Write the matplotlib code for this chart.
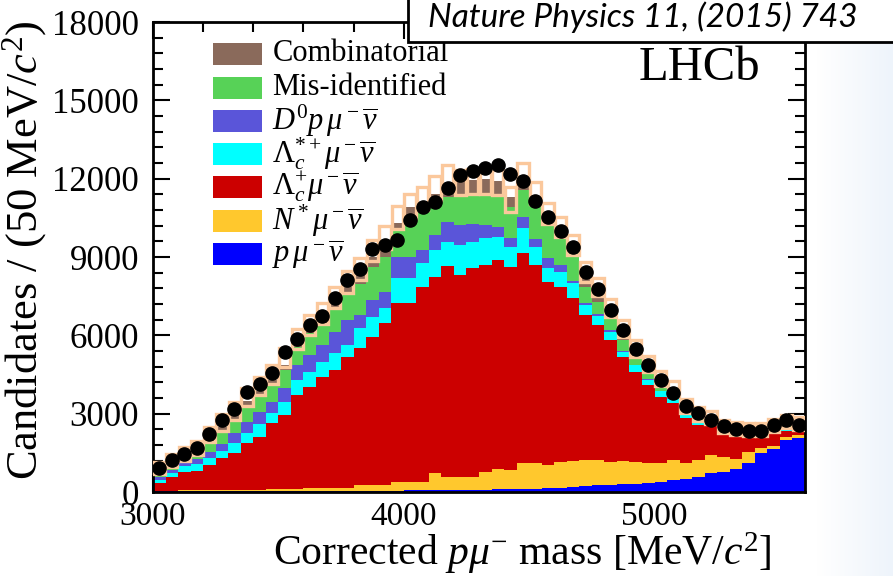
import numpy as np
import matplotlib
matplotlib.use("Agg")
import matplotlib.pyplot as plt
from matplotlib.patches import Rectangle

# ── data ───────────────────────────────────────────────────
bin_lo, bin_w = 3000, 50
# upper edges of each stacked layer, bottom to top
top_pmunu = [20, 20, 25, 25, 30, 30, 30, 35, 35, 35, 40, 40, 40, 45, 45, 45, 50, 50, 55, 55,
             60, 60, 65, 70, 70, 80, 90, 100, 110, 120, 130, 150, 170, 190, 230, 250, 270, 300, 300, 350,
             400, 460, 500, 560, 740, 780, 900, 1120, 1480, 1650, 1990, 2080]
top_nstar = [50, 55, 60, 60, 70, 75, 80, 85, 95, 100, 110, 120, 140, 150, 160, 170, 260, 270, 280, 390,
             400, 400, 715, 590, 590, 590, 780, 870, 840, 1100, 1120, 1030, 1160, 1200, 1230, 1230, 1160, 1200, 1160, 1120,
             1100, 1230, 1120, 1230, 1400, 1330, 1250, 1530, 1670, 1775, 2110, 2180]
top_lc = [330, 560, 780, 820, 1030, 1290, 1480, 1860, 2120, 2630, 2950, 3715, 4030, 4420, 4670, 5180, 5500, 5950, 6460, 7226,
          7226, 7864, 8248, 8656, 8311, 8567, 8694, 8886, 8630, 9141, 8694, 8056, 7864, 7418, 6779, 6396, 5822, 5183, 4609, 4098,
          3651, 3421, 2822, 2566, 2566, 2221, 2157, 2119, 2145, 2221, 2349, 2502]
top_lcstar = [460, 740, 1000, 1060, 1290, 1560, 1870, 2260, 2620, 3010, 3460, 4290, 4610, 4990, 5310, 5630, 6270, 6715, 7035, 8184,
              8184, 8758, 9269, 9588, 9460, 9588, 9716, 9780, 9396, 10100, 9396, 8567, 8439, 7992, 7162, 6740, 6141, 5375, 4864, 4300,
              3850, 3580, 2980, 2680, 2640, 2280, 2190, 2140, 2170, 2250, 2380, 2530]
top_d0 = [560, 860, 1150, 1260, 1540, 1850, 2260, 2700, 3050, 3460, 3970, 4860, 5250, 5630, 6140, 6590, 6780, 7350, 7670, 9013,
          9013, 9269, 9844, 10353, 10226, 10265, 10226, 10162, 9716, 10544, 9690, 8950, 8694, 8094, 7252, 6805, 6205, 5400, 4880, 4320,
          3860, 3590, 2990, 2690, 2645, 2285, 2195, 2145, 2175, 2255, 2385, 2535]
top_misid = [750, 1030, 1310, 1500, 1880, 2330, 2750, 3260, 3650, 4100, 4670, 5570, 6080, 6460, 7000, 7600, 7950, 8600, 9000, 10035,
             10482, 10737, 10992, 11311, 11311, 11375, 11375, 11311, 10900, 11566, 10992, 10353, 9970, 9300, 7865, 7290, 6652, 5822, 5120, 4600,
             4100, 3780, 3150, 2850, 2720, 2380, 2260, 2200, 2230, 2420, 2550, 2600]
top_comb = [860, 1120, 1400, 1600, 2050, 2500, 2950, 3480, 3850, 4300, 4870, 5700, 6240, 6650, 7250, 7850, 8300, 9000, 9450, 10300,
            10900, 11050, 11400, 11800, 12000, 11950, 12000, 11900, 11300, 11700, 11183, 10480, 10100, 9450, 8250, 7730, 6900, 6077, 5375, 4780,
            4250, 3880, 3250, 2950, 2800, 2450, 2330, 2300, 2320, 2500, 2620, 2650]
# fit total (box centre) and its uncertainty
fit_total = [920, 1200, 1460, 1680, 2200, 2650, 3100, 3650, 4050, 4500, 5150, 5850, 6400, 6850, 7450, 8050, 8550, 9250, 9750, 10500,
             10950, 11250, 11650, 12050, 11850, 11900, 11900, 11850, 11200, 12180, 11450, 10650, 10150, 9450, 8420, 7850, 7050, 6250, 5500, 4900,
             4350, 3950, 3300, 3000, 2850, 2500, 2420, 2400, 2380, 2560, 2700, 2640]
fit_err = [230, 250, 260, 270, 300, 320, 330, 350, 350, 360, 380, 380, 390, 400, 400, 410, 420, 420, 430, 440,
           450, 450, 460, 470, 480, 480, 480, 480, 480, 430, 420, 400, 400, 380, 370, 360, 340, 330, 320, 310,
           300, 290, 280, 270, 260, 250, 250, 250, 250, 250, 250, 250]
data_y = [907, 1214, 1467, 1673, 2221, 2746, 3190, 3830, 4125, 4557, 5350, 5860, 6384, 6752, 7418, 8119, 8552, 9306, 9460, 9651,
          10430, 10903, 11117, 11654, 12140, 12305, 12408, 12511, 12166, 11922, 11156, 10544, 10008, 9395, 8414, 7774, 6970, 6204, 5465, 4864,
          4289, 3803, 3294, 3014, 2757, 2528, 2401, 2348, 2348, 2566, 2757, 2566]

layers = [
    ("Combinatorial", top_comb, "#8a6a5b"),
    ("Mis-identified", top_misid, "#57d257"),
    (r"$D^0 p\,\mu^-\overline{\nu}$", top_d0, "#5a55d9"),
    (r"$\Lambda_c^{*+}\mu^-\overline{\nu}$", top_lcstar, "#00ffff"),
    (r"$\Lambda_c^{+}\mu^-\overline{\nu}$", top_lc, "#cc0000"),
    (r"$N^*\mu^-\overline{\nu}$", top_nstar, "#ffc82d"),
    (r"$p\,\mu^-\overline{\nu}$", top_pmunu, "#0000ff"),
]
# ───────────────────────────────────────────────────────────

plt.rcParams["font.family"] = "Liberation Serif"
plt.rcParams["mathtext.fontset"] = "custom"
plt.rcParams["mathtext.rm"] = "Liberation Serif"
plt.rcParams["mathtext.it"] = "Liberation Serif:italic"

nb = len(data_y)
edges = bin_lo + bin_w * np.arange(nb + 1)
centers = edges[:-1] + bin_w / 2

fig = plt.figure(figsize=(8.93, 5.76), dpi=100)

# light blue slide background on the right
grad = np.linspace(0, 1, 100)[None, :]
bg = fig.add_axes([0.915, 0, 0.085, 1], zorder=-5)
bg.imshow(grad, aspect="auto", cmap=matplotlib.colors.LinearSegmentedColormap.from_list(
    "bg", ["#ffffff", "#eef4fb"]), extent=[0, 1, 0, 1])
bg.axis("off")

ax = fig.add_axes([0.1713, 0.1458, 0.7302, 0.8160])

# stacked histogram, drawn from the top edge down to the next layer
base_order = [l[1] for l in layers[1:]] + [[0] * nb]
for (name, top, col), base in zip(layers, base_order):
    ax.stairs(top, edges, baseline=base, fill=True, color=col, lw=0, zorder=2)

# fit uncertainty boxes
for x0, c, e in zip(edges[:-1], fit_total, fit_err):
    ax.add_patch(Rectangle((x0 + 2.5, c - e), bin_w - 5, 2 * e, fill=False,
                           edgecolor="#fbc89c", lw=2.4, zorder=3))

ax.plot(centers, data_y, "o", color="black", ms=9.5, zorder=4)

ax.set_xlim(3000, 5600)
ax.set_ylim(0, 18000)
ax.set_xticks([3000, 4000, 5000])
ax.set_xticks(np.arange(3000, 5601, 200), minor=True)
ax.set_yticks(np.arange(0, 18001, 3000))
ax.set_yticks(np.arange(0, 18001, 600), minor=True)
ax.tick_params(which="both", direction="in", top=True, right=True, width=1.5, colors="black")
ax.tick_params(which="major", length=12)
ax.tick_params(which="minor", length=7)
ax.tick_params(axis="x", labelsize=24, pad=7)
ax.tick_params(axis="y", labelsize=25, pad=10)
for s in ax.spines.values():
    s.set_linewidth(2)

ax.set_xlabel(r"Corrected $p\mu^{-}$ mass [MeV/$c^2$]", fontsize=30)
ax.xaxis.set_label_coords(0.567, -0.08)
ax.set_ylabel(r"Candidates / (50 MeV/$c^2$)", fontsize=32)
ax.yaxis.set_label_coords(-0.16, 0.515)

# legend, laid out by hand
row_y = [0.932, 0.860, 0.789, 0.719, 0.649, 0.577, 0.506]
for (name, _, col), yy in zip(layers, row_y):
    ax.add_patch(Rectangle((0.092, yy - 0.023), 0.075, 0.046, transform=ax.transAxes,
                           facecolor=col, edgecolor="none", zorder=5))
    ax.text(0.183, yy, name, transform=ax.transAxes, fontsize=22, va="center", ha="left", zorder=5)

ax.text(0.931, 0.902, "LHCb", transform=ax.transAxes, fontsize=35, ha="right", va="center")

# citation box on top
fig.patches.append(Rectangle((0.457, 0.927), 0.56, 0.09, transform=fig.transFigure,
                             facecolor="white", edgecolor="black", lw=2, zorder=10))
fig.text(0.479, 0.970, "Nature Physics 11, (2015) 743", fontsize=24, style="italic",
         family="Lato", va="center", ha="left", zorder=11)

fig.savefig("out.png", dpi=100)
